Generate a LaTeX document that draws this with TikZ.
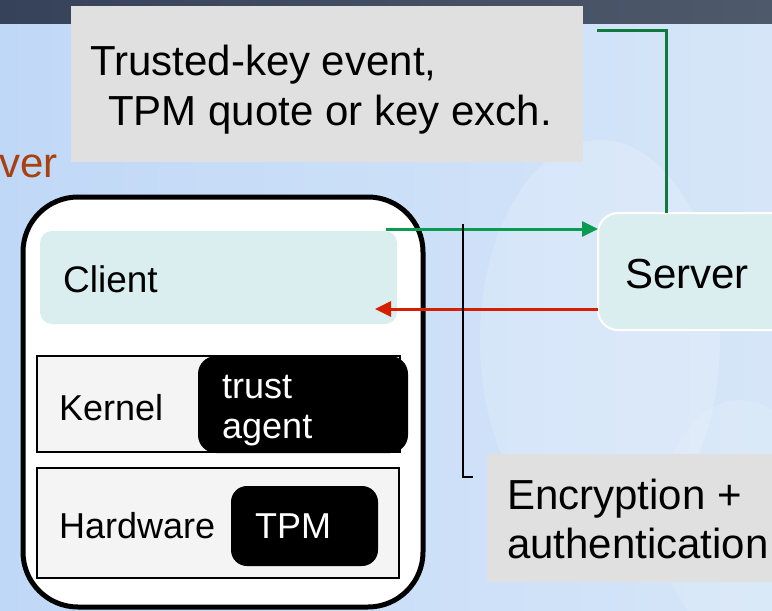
\documentclass[tikz,border=0pt]{standalone}
\usepackage{fontspec}
\setmainfont{Liberation Sans}
\usetikzlibrary{arrows.meta}
\definecolor{bgleft}{HTML}{C0D8F7}
\definecolor{bgright}{HTML}{D6E6F8}
\definecolor{bardark}{HTML}{36425A}
\definecolor{barlight}{HTML}{4E596B}
\definecolor{notegray}{HTML}{E0E0E0}
\definecolor{clientfill}{HTML}{DAEEF0}
\definecolor{layerfill}{HTML}{F4F4F4}
\definecolor{arrowgreen}{HTML}{0A9A50}
\definecolor{darkgreen}{HTML}{0E7A3E}
\definecolor{arrowred}{HTML}{D42000}
\definecolor{titlebrown}{HTML}{A84010}
\tikzset{
  box/.style={anchor=north west, inner sep=0pt, outer sep=0pt},
  notebox/.style={box, fill=notegray},
  layerbox/.style={box, fill=layerfill, draw=black, line width=2pt},
  blackbox/.style={box, fill=black},
  bigtxt/.style={anchor=base west, inner sep=0pt, font=\fontsize{42}{50}\selectfont},
  midtxt/.style={anchor=base west, inner sep=0pt, font=\fontsize{37}{44}\selectfont},
  smalltxt/.style={anchor=base west, inner sep=0pt, font=\fontsize{36}{42}\selectfont},
  whitetxt/.style={smalltxt, text=white},
  greenarrow/.style={draw=arrowgreen, line width=3pt, -{Triangle[length=16pt,width=15pt]}},
  redarrow/.style={draw=arrowred, line width=3pt, -{Triangle[length=16pt,width=15pt]}},
  greenline/.style={draw=darkgreen, line width=3pt},
  thinline/.style={draw=black, line width=1.5pt}
}
\begin{document}
\begin{tikzpicture}[x=1pt,y=-1pt]
\useasboundingbox (0,0) rectangle (772,611);
\clip (0,0) rectangle (772,611);
% background
\shade[left color=bgleft, right color=bgright] (0,23) rectangle (772,611);
\fill[white, opacity=0.18] (600,340) ellipse [x radius=120, y radius=200];
\fill[white, opacity=0.12] (740,520) ellipse [x radius=80, y radius=120];
\shade[left color=bardark, right color=barlight] (0,0) rectangle (772,23);
% title fragment
\node[bigtxt, anchor=base east, text=titlebrown] (title) at (58,177) {ver};
% top note
\node[notebox, minimum width=512pt, minimum height=156pt] (note) at (71,6) {};
\node[bigtxt] (notel1) at (90,75) {Trusted-key event,};
\node[bigtxt] (notel2) at (108,125) {TPM quote or key exch.};
% device
\node[box, draw=black, fill=white, line width=5pt, rounded corners=55pt,
      minimum width=400pt, minimum height=410pt] (device) at (23,197) {};
\node[box, fill=clientfill, rounded corners=12pt,
      minimum width=357pt, minimum height=93pt] (client) at (40,231) {};
\node[midtxt] (clientlbl) at (63,292) {Client};
\node[layerbox, minimum width=363pt, minimum height=96pt] (kernel) at (37,356) {};
\node[blackbox, rounded corners=18pt, minimum width=210pt, minimum height=97pt] (agent) at (198,356) {};
\node[smalltxt] (kernellbl) at (59,420) {Kernel};
\node[whitetxt] (agent1) at (222,398) {trust};
\node[whitetxt] (agent2) at (222,438) {agent};
\node[layerbox, minimum width=362pt, minimum height=110pt] (hw) at (37,468) {};
\node[blackbox, rounded corners=16pt, minimum width=147pt, minimum height=80pt] (tpm) at (231,486) {};
\node[smalltxt] (hwlbl) at (59,538) {Hardware};
\node[whitetxt] (tpmlbl) at (255,538) {TPM};
% server
\node[box, fill=clientfill, draw=white, line width=2pt, rounded corners=20pt,
      minimum width=200pt, minimum height=117pt] (server) at (598,213) {};
\node[bigtxt] (serverlbl) at (625,288) {Server};
% encryption note
\node[notebox, minimum width=300pt, minimum height=128pt] (enc) at (487,454) {};
\node[bigtxt] (encl1) at (507,509) {Encryption +};
\node[bigtxt] (encl2) at (507,558) {authentication};
% connectors
\coordinate (gs) at (386,229);
\draw[greenarrow] (gs) -- (gs -| server.west);
\coordinate (re) at (375,309);
\draw[redarrow] (server.west |- re) -- (re);
\coordinate (g0) at (597,30);
\coordinate (g1) at (666,30);
\draw[greenline] (g0) -- (g1) -- (g1 |- server.north);
\coordinate (b0) at (463,224);
\coordinate (b1) at (473,477);
\draw[thinline] (b0) |- (b1);
\end{tikzpicture}
\end{document}
